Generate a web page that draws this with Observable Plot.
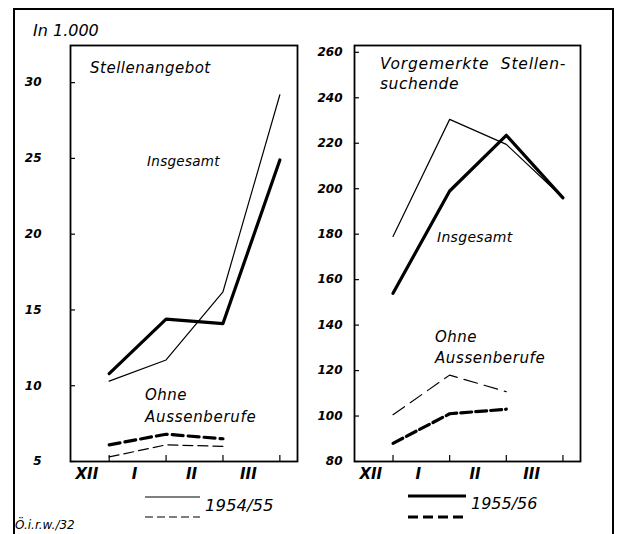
<!DOCTYPE html>
<html><head><meta charset="utf-8">
<script src="https://cdn.jsdelivr.net/npm/d3@7"></script>
<script src="https://cdn.jsdelivr.net/npm/@observablehq/plot@0.6"></script>
<style>
body{margin:0;background:#fff;}
#wrap{position:relative;width:624px;height:534px;overflow:hidden;background:#fff;font-family:"DejaVu Sans";font-style:italic;color:#000;}
.frame{position:absolute;left:13px;top:8px;width:597px;height:600px;border:2px solid #000;}
.t{position:absolute;white-space:pre;line-height:1;}
.plot{position:absolute;top:0;}
.leg{position:absolute;overflow:visible;}
</style></head><body>
<div id="wrap">
  <div class="frame"></div>
  <div class="plot" id="left" style="left:0px"></div>
  <div class="plot" id="right" style="left:312px"></div>
  <div class="t" style="left:33px;top:23px;font-size:16px">In 1.000</div>
  <div class="t" style="left:90px;top:61px;font-size:15px;letter-spacing:0.5px">Stellenangebot</div>
  <div class="t" style="left:147px;top:155px;font-size:13.5px;letter-spacing:0.3px">Insgesamt</div>
  <div class="t" style="left:145px;top:388px;font-size:15px;letter-spacing:0.5px">Ohne</div>
  <div class="t" style="left:145px;top:410px;font-size:15px;letter-spacing:0.7px">Aussenberufe</div>
  <div class="t" style="left:380px;top:57px;font-size:15.5px;letter-spacing:0.8px">Vorgemerkte  Stellen-</div>
  <div class="t" style="left:380px;top:77px;font-size:15.5px;letter-spacing:0.5px">suchende</div>
  <div class="t" style="left:437px;top:230px;font-size:14px;letter-spacing:0.3px">Insgesamt</div>
  <div class="t" style="left:435px;top:330px;font-size:15px;letter-spacing:0.5px">Ohne</div>
  <div class="t" style="left:435px;top:351px;font-size:15px;letter-spacing:0.6px">Aussenberufe</div>
  <div class="t" style="left:205px;top:498px;font-size:16.5px">1954/55</div>
  <div class="t" style="left:471px;top:496px;font-size:16px">1955/56</div>
  <div class="t" style="left:15px;top:519px;font-size:12px">Ö.i.r.w./32</div>
  <svg class="leg" style="left:0;top:0" width="624" height="534">
    <line x1="145" x2="200" y1="497" y2="497" stroke="#000" stroke-width="1.2"/>
    <line x1="145" x2="200" y1="517" y2="517" stroke="#000" stroke-width="1.2" stroke-dasharray="8,4"/>
    <line x1="408" x2="466" y1="496" y2="496" stroke="#000" stroke-width="3"/>
    <line x1="408" x2="466" y1="517" y2="517" stroke="#000" stroke-width="3" stroke-dasharray="10,5"/>
  </svg>
</div>
<script>
// Month-end observations; tick labels sit between month ends
const periods = ["XII", "I", "II", "III"];

// Left panel: Stellenangebot (in 1.000)
const angebotTicks = [5, 10, 15, 20, 25, 30];
const angebot5455 = [10.3, 11.7, 16.2, 29.2];
const angebot5556 = [10.8, 14.4, 14.1, 24.9];
const angebotOhne5455 = [5.3, 6.1, 6.0];
const angebotOhne5556 = [6.1, 6.8, 6.5];

// Right panel: Vorgemerkte Stellensuchende (in 1.000)
const suchendeTicks = [80, 100, 120, 140, 160, 180, 200, 220, 240, 260];
const suchende5455 = [179, 230.5, 219.5, 196];
const suchende5556 = [154, 199, 223.5, 196];
const suchendeOhne5455 = [100.6, 118, 110.7];
const suchendeOhne5556 = [88, 101, 103];

const xDomain = [-0.68, 3.31];
const rows = (vals) => vals.map((v, i) => ({i, period: periods[i], v}));
// label each month in the middle of its visible interval
const labelPos = periods.map((d, i) => (Math.max(i - 1, xDomain[0]) + i) / 2);

function panel(el, {yDomain, yTicks, marginLeft, marginRight, tickPadding, s5455, s5556, o5455, o5556, dash5455, dash5556}) {
  const chart = Plot.plot({
    width: 312, height: 534,
    marginLeft, marginRight, marginTop: 45, marginBottom: 73,
    x: {domain: xDomain},
    y: {domain: yDomain},
    style: {overflow: "visible", background: "transparent", fontFamily: "DejaVu Sans", fontStyle: "italic", color: "#000"},
    marks: [
      Plot.frame({strokeWidth: 1.8}),
      Plot.axisY({ticks: yTicks, tickSize: -5, tickPadding, fontSize: 12, fontWeight: "bold", label: null, strokeWidth: 1.2}),
      Plot.axisX({ticks: labelPos, tickFormat: (d) => periods[labelPos.indexOf(d)], tickSize: 0, tickPadding: 7, dx: -3, fontSize: 15, fontWeight: "bold", label: null}),
      Plot.axisX({ticks: periods.map((d, i) => i), tickFormat: () => "", tickSize: -6, label: null, strokeWidth: 1.2}),
      Plot.line(rows(s5455), {x: "i", y: "v", stroke: "#000", strokeWidth: 1.2}),
      Plot.line(rows(s5556), {x: "i", y: "v", stroke: "#000", strokeWidth: 3.2}),
      Plot.line(rows(o5455), {x: "i", y: "v", stroke: "#000", strokeWidth: 1.2, strokeDasharray: dash5455}),
      Plot.line(rows(o5556), {x: "i", y: "v", stroke: "#000", strokeWidth: 3.2, strokeDasharray: dash5556})
    ]
  });
  document.getElementById(el).appendChild(chart);
}

panel("left", {yDomain: [5, 32.45], yTicks: angebotTicks, marginLeft: 70, marginRight: 15, tickPadding: 34,
  s5455: angebot5455, s5556: angebot5556, o5455: angebotOhne5455, o5556: angebotOhne5556, dash5455: "10,5", dash5556: "11,5"});
panel("right", {yDomain: [80, 263], yTicks: suchendeTicks, marginLeft: 42, marginRight: 44, tickPadding: 17,
  s5455: suchende5455, s5556: suchende5556, o5455: suchendeOhne5455, o5556: suchendeOhne5556, dash5455: "14,7", dash5556: "11,4"});
</script>
</body></html>
